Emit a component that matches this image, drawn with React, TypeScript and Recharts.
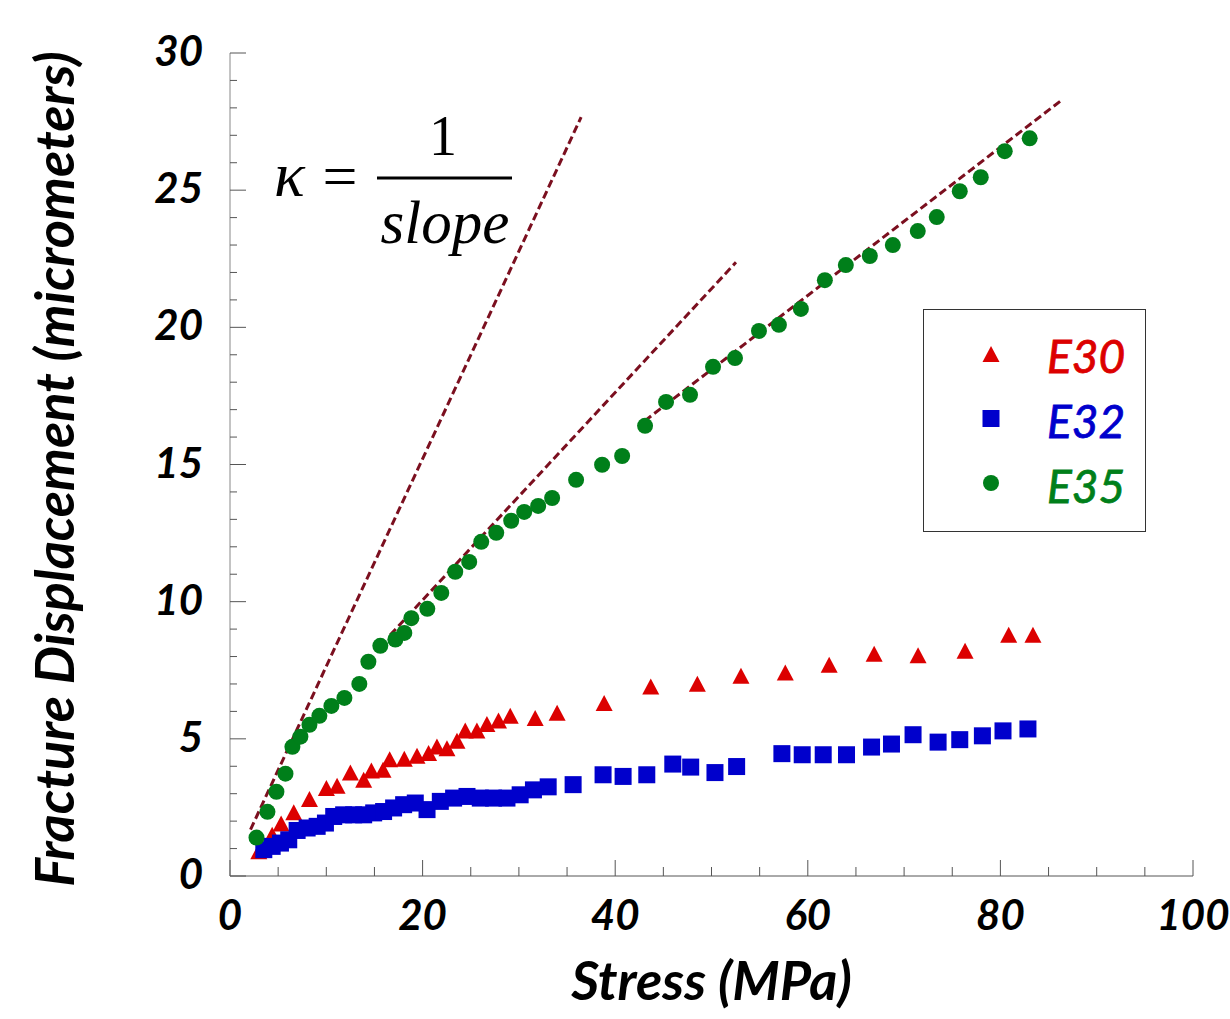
import React from 'react';
import { ScatterChart, Scatter, XAxis, YAxis, ReferenceLine, Legend, Label } from 'recharts';

// ---------- data ----------
const e30Stress = [2.99, 4.38, 5.31, 6.62, 8.25, 10.01, 11.12, 12.5, 13.88, 14.68, 15.89, 16.58, 18.1, 19.42, 20.62, 21.49, 22.53, 23.57, 24.43, 25.64, 26.68, 27.88, 29.1, 31.69, 33.97, 38.85, 43.69, 48.53, 53.06, 57.66, 62.22, 66.89, 71.45, 76.33, 80.86, 83.38];
const e30Disp = [0.9, 1.5, 1.91, 2.32, 2.81, 3.21, 3.29, 3.77, 3.51, 3.85, 3.87, 4.26, 4.27, 4.38, 4.48, 4.72, 4.66, 4.93, 5.3, 5.3, 5.54, 5.67, 5.84, 5.76, 5.95, 6.31, 6.91, 7.01, 7.3, 7.42, 7.7, 8.1, 8.05, 8.21, 8.79, 8.79];

const e32Stress = [3.51, 4.38, 5.24, 6.1, 6.97, 8.01, 9.05, 9.91, 10.77, 11.8, 12.84, 13.88, 14.92, 15.95, 16.99, 18.03, 19.24, 20.46, 21.84, 23.22, 24.61, 25.99, 27.37, 28.76, 30.13, 31.51, 33.04, 35.63, 38.74, 40.82, 43.28, 45.98, 47.84, 50.36, 52.61, 57.31, 59.42, 61.6, 64.02, 66.62, 68.69, 70.93, 73.53, 75.78, 78.13, 80.27, 82.86];
const e32Disp = [0.96, 1.08, 1.2, 1.32, 1.66, 1.75, 1.81, 1.93, 2.17, 2.23, 2.23, 2.23, 2.3, 2.35, 2.48, 2.6, 2.66, 2.42, 2.72, 2.84, 2.9, 2.84, 2.84, 2.84, 2.96, 3.14, 3.25, 3.33, 3.69, 3.63, 3.69, 4.08, 3.97, 3.77, 3.99, 4.46, 4.42, 4.42, 4.42, 4.7, 4.81, 5.15, 4.88, 4.97, 5.11, 5.29, 5.36];

const e35Stress = [2.75, 3.89, 4.82, 5.76, 6.48, 7.31, 8.25, 9.28, 10.53, 11.88, 13.43, 14.37, 15.61, 17.17, 18.1, 18.83, 20.49, 21.94, 23.39, 24.84, 26.09, 27.65, 29.2, 30.55, 32.0, 33.45, 35.94, 38.64, 40.72, 43.1, 45.28, 47.77, 50.16, 52.44, 54.93, 57.0, 59.28, 61.77, 63.95, 66.44, 68.83, 71.42, 73.39, 75.78, 77.96, 80.45, 83.04];
const e35Disp = [1.4, 2.34, 3.07, 3.73, 4.71, 5.08, 5.51, 5.84, 6.2, 6.49, 7.0, 7.81, 8.39, 8.62, 8.86, 9.4, 9.74, 10.32, 11.09, 11.45, 12.18, 12.51, 12.95, 13.27, 13.49, 13.78, 14.44, 14.99, 15.31, 16.41, 17.28, 17.54, 18.56, 18.88, 19.87, 20.09, 20.67, 21.72, 22.27, 22.6, 23.0, 23.51, 24.02, 24.96, 25.47, 26.42, 26.89];

const seriesNames = ['E30', 'E32', 'E35'];
const seriesColors = ['#dc0000', '#0000cc', '#007f1a'];
const seriesShapes = ['triangle', 'square', 'circle'];

const fitLine1 = [{ x: 2.13, y: 1.69 }, { x: 36.46, y: 27.66 }];
const fitLine2 = [{ x: 16.65, y: 8.79 }, { x: 52.54, y: 22.37 }];
const fitLine3 = [{ x: 43.07, y: 16.59 }, { x: 86.46, y: 28.31 }];
const fitLines = [fitLine1, fitLine2, fitLine3];

const xTicks = [0, 5, 10, 15, 20, 25, 30, 35, 40, 45, 50, 55, 60, 65, 70, 75, 80, 85, 90, 95, 100];
const yTicks = Array.from({ length: 31 }, (_, i) => i);
const xMajorStep = 20;
const yMajorStep = 5;

const xTitle = 'Stress (MPa)';
const yTitle = 'Fracture Displacement (micrometers)';

// ---------- build tables ----------
const zip = (xs: number[], ys: number[]) => xs.map((x, i) => ({ x, y: ys[i] }));
const seriesData = [zip(e30Stress, e30Disp), zip(e32Stress, e32Disp), zip(e35Stress, e35Disp)];

// ---------- styling ----------
const W = 1230;
const H = 1019;
const axisColor = '#555';
const dashColor = '#7b0f1f';
const tickFont: React.CSSProperties = {
  fontFamily: 'Lato, "Open Sans", sans-serif',
  fontWeight: 700,
  fontStyle: 'italic',
  fontSize: 42,
  fill: '#000',
};
const titleFont: React.CSSProperties = {
  fontFamily: 'Lato, "Open Sans", sans-serif',
  fontWeight: 700,
  fontStyle: 'italic',
  fontSize: 54,
  fill: '#000',
};

function Marker({ kind, cx, cy, fill }: { kind: string; cx: number; cy: number; fill: string }) {
  if (cx == null || cy == null) return null;
  if (kind === 'triangle') {
    return <polygon points={`${cx},${cy - 8} ${cx - 8.5},${cy + 8} ${cx + 8.5},${cy + 8}`} fill={fill} />;
  }
  if (kind === 'square') {
    return <rect x={cx - 8.5} y={cy - 8.5} width={17} height={17} fill={fill} />;
  }
  return <circle cx={cx} cy={cy} r={8} fill={fill} />;
}

const BottomTick = (props: any) => {
  const { x, y, payload } = props;
  const v = payload.value;
  const major = v % xMajorStep === 0;
  return (
    <g>
      <line x1={x} x2={x} y1={y} y2={y - (major ? 16 : 9)} stroke={axisColor} strokeWidth={1} />
      {major && (
        <text x={x} y={y + 54} textAnchor="middle" style={tickFont}>
          {v}
        </text>
      )}
    </g>
  );
};

const TopTick = (props: any) => {
  const { x, y, payload } = props;
  const major = payload.value % xMajorStep === 0;
  return <line x1={x} x2={x} y1={y} y2={y + (major ? 16 : 9)} stroke={axisColor} strokeWidth={1} />;
};

const LeftTick = (props: any) => {
  const { x, y, payload } = props;
  const v = payload.value;
  const major = v % yMajorStep === 0;
  return (
    <g>
      <line x1={x} x2={x + (major ? 16 : 7)} y1={y} y2={y} stroke={axisColor} strokeWidth={1} />
      {major && (
        <text x={x - 27} y={y + 13} textAnchor="end" style={tickFont}>
          {v}
        </text>
      )}
    </g>
  );
};

const RightTick = (props: any) => {
  const { x, y, payload } = props;
  const major = payload.value % yMajorStep === 0;
  return <line x1={x} x2={x - (major ? 16 : 7)} y1={y} y2={y} stroke={axisColor} strokeWidth={1} />;
};

const renderLegend = (props: any) => {
  const payload = (props && props.payload) || [];
  const items = seriesNames.map((name, i) => {
    const entry = payload.find((p: any) => p.value === name);
    return { name, color: (entry && entry.color) || seriesColors[i], kind: seriesShapes[i] };
  });
  return (
    <div
      style={{
        width: 223,
        height: 223,
        border: '1px solid #333',
        boxSizing: 'border-box',
        background: '#fff',
      }}
    >
      <svg width={221} height={221} style={{ display: 'block' }}>
        {items.map((it, i) => (
          <g key={it.name}>
            <Marker kind={it.kind} cx={67} cy={44 + i * 64.5} fill={it.color} />
            <text
              x={123}
              y={63 + i * 65}
              stroke={it.color}
              strokeWidth={0.8}
              style={{
                fontFamily: 'Lato, "Open Sans", sans-serif',
                fontStyle: 'italic',
                fontWeight: 400,
                fontSize: 46,
                fill: it.color,
              }}
            >
              {it.name}
            </text>
          </g>
        ))}
      </svg>
    </div>
  );
};

export default function App() {
  return (
    <div style={{ position: 'absolute', left: 0, top: 0, width: W, height: H, background: '#fff' }}>
      <ScatterChart width={W} height={H} margin={{ top: 53, right: 37, bottom: 0, left: 0 }}>
        <XAxis
          xAxisId="main"
          type="number"
          dataKey="x"
          domain={[0, 100]}
          ticks={xTicks}
          interval={0}
          height={143}
          orientation="bottom"
          tickSize={0}
          tickMargin={0}
          tickLine={false}
          axisLine={{ stroke: axisColor, strokeWidth: 1 }}
          tick={<BottomTick />}
          allowDataOverflow
        >
          <Label
            content={(p: any) => {
              const vb = p.viewBox || {};
              return (
                <text x={(vb.x || 0) + (vb.width || 0) / 2} y={1000} textAnchor="middle" style={titleFont}>
                  {xTitle}
                </text>
              );
            }}
          />
        </XAxis>
        <XAxis
          xAxisId="top"
          type="number"
          dataKey="x"
          domain={[0, 100]}
          ticks={xTicks}
          interval={0}
          height={0}
          orientation="top"
          tickSize={0}
          tickMargin={0}
          tickLine={false}
          axisLine={{ stroke: '#222', strokeWidth: 1 }}
          tick={<TopTick />}
          allowDataOverflow
        />
        <YAxis
          yAxisId="main"
          type="number"
          dataKey="y"
          domain={[0, 30]}
          ticks={yTicks}
          interval={0}
          width={230}
          orientation="left"
          tickSize={0}
          tickMargin={0}
          tickLine={false}
          axisLine={{ stroke: '#888', strokeWidth: 1 }}
          tick={<LeftTick />}
          allowDataOverflow
        >
          <Label
            content={() => {
              const cx = 74;
              const cy = 469;
              return (
                <text x={cx} y={cy} textAnchor="middle" transform={`rotate(-90, ${cx}, ${cy})`} style={titleFont}>
                  {yTitle}
                </text>
              );
            }}
          />
        </YAxis>
        <YAxis
          yAxisId="right"
          type="number"
          dataKey="y"
          domain={[0, 30]}
          ticks={yTicks}
          interval={0}
          width={0}
          orientation="right"
          tickSize={0}
          tickMargin={0}
          tickLine={false}
          axisLine={{ stroke: '#888', strokeWidth: 1 }}
          tick={<RightTick />}
          allowDataOverflow
        />

        {fitLines.map((seg, i) => (
          <ReferenceLine
            key={`fit${i}`}
            xAxisId="main"
            yAxisId="main"
            segment={seg}
            stroke={dashColor}
            strokeWidth={3}
            strokeDasharray="8 4"
            ifOverflow="visible"
          />
        ))}

        {seriesNames.map((name, i) => (
          <Scatter
            key={name}
            name={name}
            data={seriesData[i]}
            xAxisId="main"
            yAxisId="main"
            fill={seriesColors[i]}
            isAnimationActive={false}
            shape={(p: any) => <Marker kind={seriesShapes[i]} cx={p.cx} cy={p.cy} fill={seriesColors[i]} />}
          />
        ))}

        <Legend
          layout="vertical"
          align="center"
          verticalAlign="middle"
          content={renderLegend}
          wrapperStyle={{ left: 923, top: 309, width: 223, height: 223, margin: 0, padding: 0 }}
        />
      </ScatterChart>

      <svg
        width={W}
        height={H}
        style={{ position: 'absolute', left: 0, top: 0, pointerEvents: 'none' }}
      >
        <g style={{ fontFamily: '"Liberation Serif", "DejaVu Serif", serif', fill: '#000' }}>
          <text x={274} y={196} style={{ fontSize: 64, fontStyle: 'italic' }}>κ</text>
          <text x={340} y={197} textAnchor="middle" style={{ fontSize: 62 }}>=</text>
          <text x={443} y={155} textAnchor="middle" style={{ fontSize: 56 }}>1</text>
          <line x1={377} x2={512} y1={178} y2={178} stroke="#000" strokeWidth={3} />
          <text x={445} y={243} textAnchor="middle" style={{ fontSize: 61, fontStyle: 'italic' }}>slope</text>
        </g>
      </svg>
    </div>
  );
}
